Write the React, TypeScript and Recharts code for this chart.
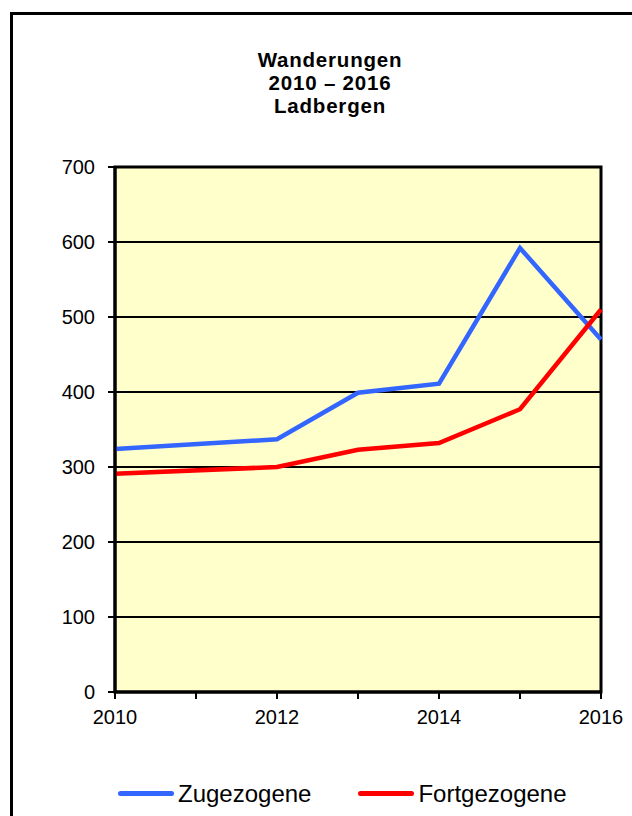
import React from "react";
import {
  LineChart,
  Line,
  XAxis,
  YAxis,
  CartesianGrid,
  ReferenceArea,
} from "recharts";

const years = [2010, 2012, 2013, 2014, 2015, 2016];
const zugezogene = [324, 337, 399, 411, 592, 470];
const fortgezogene = [291, 300, 323, 332, 377, 510];

const xTicks = [2010, 2011, 2012, 2013, 2014, 2015, 2016];
const xLabels = [2010, 2012, 2014, 2016];
const yTicks = [0, 100, 200, 300, 400, 500, 600, 700];

const titleLines = ["Wanderungen", "2010 – 2016", "Ladbergen"];

const series = [
  { key: "zu", name: "Zugezogene", color: "#3366FF" },
  { key: "fort", name: "Fortgezogene", color: "#FF0000" },
];

const data = years.map((year, i) => ({
  year,
  zu: zugezogene[i],
  fort: fortgezogene[i],
}));

const FONT = "Arial, 'Liberation Sans', sans-serif";

function YearTick(props: any) {
  const { x, y, payload } = props;
  if (!xLabels.includes(payload.value)) return null;
  return (
    <text x={x} y={y} dy="0.71em" textAnchor="middle" fontSize={20} fill="#000" fontFamily={FONT}>
      {payload.value}
    </text>
  );
}

export default function App() {
  return (
    <div
      style={{
        position: "absolute",
        left: 0,
        top: 0,
        width: 632,
        height: 816,
        overflow: "hidden",
        background: "#fff",
        fontFamily: FONT,
      }}
    >
      <div
        style={{
          position: "absolute",
          left: 10,
          top: 12,
          width: 700,
          height: 900,
          border: "3px solid #000",
          boxSizing: "border-box",
        }}
      />

      <div
        style={{
          position: "absolute",
          left: 0,
          top: 48,
          width: 660,
          textAlign: "center",
          fontWeight: "bold",
          fontSize: 20.5,
          letterSpacing: 0.8,
          lineHeight: "23px",
          color: "#000",
        }}
      >
        {titleLines.map((t) => (
          <div key={t}>{t}</div>
        ))}
      </div>

      <div style={{ position: "absolute", left: 0, top: 0 }}>
        <LineChart
          width={632}
          height={816}
          data={data}
          margin={{ top: 167, right: 31, left: 55, bottom: 94 }}
        >
          <CartesianGrid
            vertical={false}
            fill="#FFFFCC"
            stroke="#000"
            strokeWidth={2}
            strokeOpacity={1}
          />
          <XAxis
            dataKey="year"
            type="number"
            domain={[2010, 2016]}
            ticks={xTicks}
            interval={0}
            tick={<YearTick />}
            tickSize={7}
            tickMargin={11}
            axisLine={{ stroke: "#000", strokeWidth: 3 }}
            tickLine={{ stroke: "#000", strokeWidth: 2 }}
          />
          <YAxis
            domain={[0, 700]}
            ticks={yTicks}
            interval={0}
            width={60}
            tickSize={7}
            tickMargin={13}
            tick={{ fontSize: 20, fill: "#000", fontFamily: FONT }}
            axisLine={{ stroke: "#000", strokeWidth: 3 }}
            tickLine={{ stroke: "#000", strokeWidth: 2 }}
          />
          {series.map((s) => (
            <Line
              key={s.key}
              type="linear"
              dataKey={s.key}
              name={s.name}
              stroke={s.color}
              strokeWidth={4.5}
              dot={false}
              activeDot={false}
              isAnimationActive={false}
            />
          ))}
          <ReferenceArea
            x1={2010}
            x2={2016}
            y1={0}
            y2={700}
            fill="none"
            fillOpacity={0}
            stroke="#000"
            strokeWidth={3}
            ifOverflow="visible"
          />
        </LineChart>
      </div>

      <div
        style={{
          position: "absolute",
          left: 118,
          top: 779,
          display: "flex",
          alignItems: "center",
          fontSize: 24,
          color: "#000",
          height: 30,
        }}
      >
        {series.map((s, i) => (
          <div
            key={s.key}
            style={{ display: "flex", alignItems: "center", marginLeft: i === 0 ? 0 : 47 }}
          >
            <div
              style={{
                width: 56,
                height: 5,
                borderRadius: 3,
                background: s.color,
                marginRight: 4,
                position: "relative",
                top: -1,
              }}
            />
            <span>{s.name}</span>
          </div>
        ))}
      </div>
    </div>
  );
}
